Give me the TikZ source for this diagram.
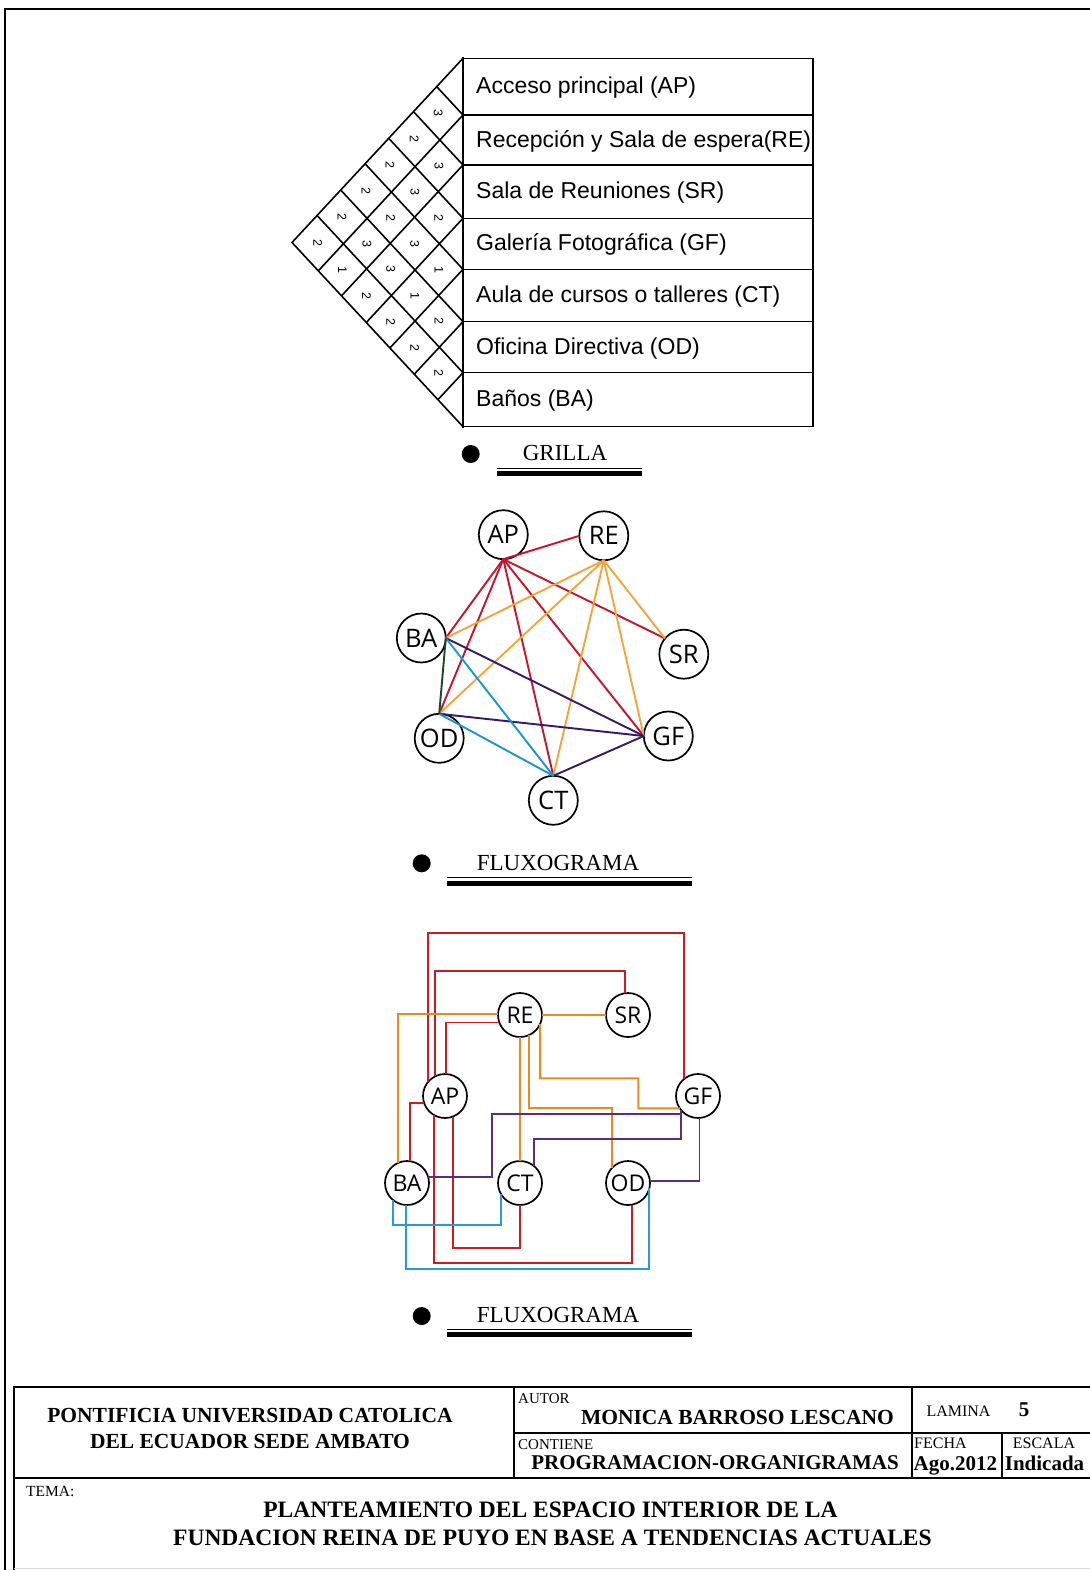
\documentclass[tikz,border=0pt]{standalone}
\usepackage{fontspec}
\setmainfont{Liberation Serif}
\newfontfamily\arialf{Liberation Sans}
\newfontfamily\myriadf{Open Sans}
\usetikzlibrary{calc}
\definecolor{gred}{RGB}{200,20,40}
\definecolor{gorange}{RGB}{242,165,58}
\definecolor{gpurple}{RGB}{55,25,105}
\definecolor{gblue}{RGB}{25,150,210}
\definecolor{ggreen}{RGB}{25,70,45}
\definecolor{hred}{RGB}{200,30,35}
\definecolor{horange}{RGB}{232,138,30}
\definecolor{hpurple}{RGB}{90,45,130}
\definecolor{hblue}{RGB}{40,155,210}
\tikzset{
  tabtext/.style={anchor=west, inner sep=0pt, font=\arialf\fontsize{23}{27}\selectfont},
  digit/.style={inner sep=0pt, rotate=-90, font=\arialf\fontsize{12.5}{14}\selectfont},
  gone/.style={circle, draw, fill=white, line width=1.7pt, minimum size=49pt, inner sep=0pt, outer sep=0pt, font=\myriadf\fontsize{25.5}{28}\selectfont},
  gtwo/.style={circle, draw, fill=white, line width=1.7pt, minimum size=44pt, inner sep=0pt, outer sep=0pt, font=\myriadf\fontsize{23}{26}\selectfont},
  eone/.style={line width=1.9pt},
  etwo/.style={line width=1.9pt, line join=miter},
  latt/.style={line width=1.6pt},
  bulletdot/.style={circle, fill=black, minimum size=18pt, inner sep=0pt},
  ttl/.style={inner sep=0pt, font=\fontsize{23}{27}\selectfont},
  small/.style={inner sep=0pt, anchor=base west, font=\fontsize{16}{18}\selectfont},
  big/.style={inner sep=0pt, anchor=base, font=\bfseries\fontsize{21}{24}\selectfont},
  frame/.style={line width=2pt},
}
\begin{document}
\begin{tikzpicture}[x=1pt,y=-1pt]
\useasboundingbox (0,0) rectangle (1089,1570);
% page border
\draw[line width=2.5pt] (5,1572) -- (5,9) -- (1092,9);

% ===== GRILLA table =====
\draw[line width=1.5pt] (463,58.3) rectangle (813,426.7);
\foreach \yk in {115,165,218.3,269.3,321.7,372.7}
  \draw[line width=1.5pt] (463,\yk) -- (813,\yk);
\draw[line width=2.5pt] (463,57.3) -- (463,427.7);
\node[tabtext] (r0) at (476,87.6) {Acceso principal (AP)};
\node[tabtext] (r1) at (476,141) {Recepción y Sala de espera(RE)};
\node[tabtext] (r2) at (476,192.6) {Sala de Reuniones (SR)};
\node[tabtext] (r3) at (476,244.8) {Galería Fotográfica (GF)};
\node[tabtext] (r4) at (476,296.5) {Aula de cursos o talleres (CT)};
\node[tabtext] (r5) at (476,348.2) {Oficina Directiva (OD)};
\node[tabtext] (r6) at (476,400.2) {Baños (BA)};
% lattice
\draw[latt, line join=miter] (463,58.3) -- (292,242.5) -- (463,426.7);
\foreach \yk/\ux/\uy/\lx/\ly in {115/436.7/86.65/318.3/270.85,
                                  165/413.5/111.65/341.5/295.85,
                                  218.3/388.7/138.3/366.3/322.5,
                                  269.3/365.1/163.8/389.9/348.0,
                                  321.7/340.7/190.0/414.3/374.2,
                                  372.7/317.1/215.5/437.9/399.7} {
  \draw[latt] (463,\yk) -- (\ux,\uy);
  \draw[latt] (463,\yk) -- (\lx,\ly);
}
\foreach \ci/\cj/\v [count=\n] in {86.65/140/3, 140/191.65/3, 191.65/243.8/2, 243.8/295.5/1, 295.5/347.2/2, 347.2/399.7/2,
                      86.65/191.65/2, 140/243.8/3, 191.65/295.5/3, 243.8/347.2/1, 295.5/399.7/2,
                      86.65/243.8/2, 140/295.5/2, 191.65/347.2/3, 243.8/399.7/2,
                      86.65/295.5/2, 140/347.2/3, 191.65/399.7/2,
                      86.65/347.2/2, 140/399.7/1,
                      86.65/399.7/2}
  \node[digit] (d\n) at ({463-0.4642*(\cj-\ci)},{(\ci+\cj)/2}) {\v};

% title GRILLA
\node[bulletdot] (b1) at (470.7,454) {};
\node[ttl] (t1) at (565,452.8) {GRILLA};
\draw[line width=1.2pt] (497,468.3) -- (642,468.3);
\draw[line width=5pt] (497,473.5) -- (642,473.5);

% ===== FLUXOGRAMA 1 =====
\node[gone] (AP1) at (503.3,534.7) {AP};
\node[gone] (RE1) at (603.8,535.8) {RE};
\node[gone] (BA1) at (421.3,638) {BA};
\node[gone] (SR1) at (683.8,654.2) {SR};
\node[gone] (GF1) at (668.3,736) {GF};
\node[gone] (OD1) at (439.2,738.3) {OD};
\node[gone] (CT1) at (553.3,800.3) {CT};
\foreach \t in {RE1.west, BA1.east, OD1.north, CT1.north, GF1.west, SR1.140}
  \draw[eone, gred] (AP1.south) -- (\t);
\foreach \t in {BA1.east, OD1.north, CT1.north, GF1.west, SR1.140}
  \draw[eone, gorange] (RE1.south) -- (\t);
\draw[eone, gpurple] (BA1.east) -- (GF1.west);
\draw[eone, gpurple] (OD1.north) -- (GF1.west);
\draw[eone, gpurple] (CT1.north) -- (GF1.west);
\draw[eone, gblue] (BA1.east) -- (CT1.north);
\draw[eone, gblue] (OD1.north) -- (CT1.north);
\draw[eone, ggreen] (BA1.east) -- (OD1.north);

\node[bulletdot] (b2) at (421.7,863.3) {};
\node[ttl] (t2) at (558,863) {FLUXOGRAMA};
\draw[line width=1.2pt] (447,877.7) -- (692,877.7);
\draw[line width=5pt] (447,883.3) -- (692,883.3);

% ===== FLUXOGRAMA 2 =====
\node[gtwo] (RE2) at (520,1015) {RE};
\node[gtwo] (SR2) at (628,1015) {SR};
\node[gtwo] (AP2) at (445,1096) {AP};
\node[gtwo] (GF2) at (698,1096) {GF};
\node[gtwo] (BA2) at (407,1183) {BA};
\node[gtwo] (CT2) at (520,1183) {CT};
\node[gtwo] (OD2) at (628,1183) {OD};
% red
\draw[etwo, hred] (AP2.139.4) |- (600,933.3) -| (GF2.131.9);
\draw[etwo, hred] (AP2.117) |- (530,970.7) -| (SR2.97.8);
\draw[etwo, hred] (RE2.200.5) -| (AP2.87.4);
\draw[etwo, hred] (AP2.199.4) -| (BA2.82.2);
\draw[etwo, hred] (AP2.-69.5) |- (480,1248.3) -| (CT2.-91.8);
\draw[etwo, hred] (AP2.-120) |- (530,1263.3) -| (OD2.-80.3);
% orange
\draw[etwo, horange] (RE2.178) -| (BA2.113.3);
\draw[etwo, horange] (RE2.east) -- (SR2.west);
\draw[etwo, horange] (RE2.south) -- (CT2.north);
\draw[etwo, horange] (RE2.-65) |- (570,1108.3) -| (OD2.137.8);
\draw[etwo, horange] (RE2.-24.6) |- (600,1078.3) -| (638.3,1108.3) -- (GF2.214);
% purple
\draw[etwo, hpurple] (BA2.15) -| (491.7,1114.3) -| (GF2.-141.8);
\draw[etwo, hpurple] (CT2.52.8) |- (600,1139) -| (GF2.-141.8);
\draw[etwo, hpurple] (GF2.-86.6) |- (OD2.6);
% blue
\draw[etwo, hblue] (BA2.-130.5) |- (450,1225) -| (CT2.-149.7);
\draw[etwo, hblue] (BA2.-92.6) |- (530,1269) -| (OD2.-14.5);

\node[bulletdot] (b3) at (421.7,1316) {};
\node[ttl] (t3) at (558,1315) {FLUXOGRAMA};
\draw[line width=1.2pt] (447,1329.7) -- (692,1329.7);
\draw[line width=5pt] (447,1334.8) -- (692,1334.8);

% ===== title block =====
\draw[frame] (1092,1386.5) -- (14,1386.5) -- (14,1572);
\draw[frame] (14,1478) -- (1092,1478);
\draw[frame] (514,1386.5) -- (514,1478);
\draw[frame] (911.5,1386.5) -- (911.5,1478);
\draw[frame] (514,1433) -- (1092,1433);
\draw[frame] (1001.5,1433) -- (1001.5,1478);
\draw[black!15, line width=1pt] (14,1568.5) -- (1092,1568.5);

\node[big, font=\bfseries\fontsize{21.5}{24}\selectfont] (u1) at (250,1422) {PONTIFICIA UNIVERSIDAD CATOLICA};
\node[big, font=\bfseries\fontsize{21.5}{24}\selectfont] (u2) at (250,1448) {DEL ECUADOR SEDE AMBATO};
\node[small, font=\fontsize{15}{17}\selectfont] (au) at (518,1403) {AUTOR};
\node[big, font=\bfseries\fontsize{21.5}{24}\selectfont] (mb) at (737.5,1424) {MONICA BARROSO LESCANO};
\node[small, font=\fontsize{15}{17}\selectfont] (co) at (518,1449) {CONTIENE};
\node[big] (po) at (715,1469.5) {PROGRAMACION-ORGANIGRAMAS};
\node[small, anchor=base] (la) at (958.5,1416.5) {LAMINA};
\node[big] (l5) at (1024,1416) {5};
\node[small] (fe) at (914,1448.5) {FECHA};
\node[big, anchor=base west] (ag) at (913.5,1470) {Ago.2012};
\node[small, anchor=base] (es) at (1044,1448.5) {ESCALA};
\node[big] (in) at (1044.5,1470) {Indicada};
\node[small, font=\fontsize{15.5}{17}\selectfont] (te) at (26,1496) {TEMA:};
\node[big, font=\bfseries\fontsize{23.5}{27}\selectfont] (p1) at (550.5,1517) {PLANTEAMIENTO DEL ESPACIO INTERIOR DE LA};
\node[big, font=\bfseries\fontsize{23.5}{27}\selectfont] (p2) at (552.5,1545) {FUNDACION REINA DE PUYO EN BASE A TENDENCIAS ACTUALES};
\end{tikzpicture}
\end{document}
